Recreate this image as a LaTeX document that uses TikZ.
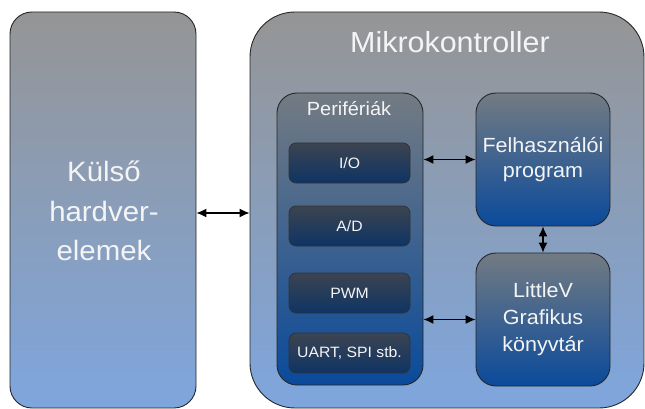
\documentclass[tikz,border=0pt]{standalone}
\usepackage{fontspec}
\setmainfont{Liberation Sans}[FakeStretch=1.05]
\usetikzlibrary{arrows.meta}
\definecolor{outtop}{HTML}{959595}
\definecolor{outbot}{HTML}{7EA6DE}
\definecolor{midtop}{HTML}{737B83}
\definecolor{midbot}{HTML}{0A4A9B}
\definecolor{smtop}{HTML}{3C4450}
\definecolor{smbot}{HTML}{0E3465}
\definecolor{txtcol}{HTML}{F4F4F4}
\begin{document}
\begin{tikzpicture}[x=1pt,y=-1pt,
  bigbox/.style={draw=black!85, line width=0.9pt, top color=outtop, bottom color=outbot},
  midbox/.style={draw=black!85, line width=0.9pt, top color=midtop, bottom color=midbot, rounded corners=20pt},
  smbox/.style={draw=black!80, line width=0.8pt, top color=smtop, bottom color=smbot, rounded corners=7pt,
     minimum width=121pt, minimum height=40pt, text=txtcol, font=\fontsize{15}{18}\selectfont},
  txt/.style={text=txtcol, inner sep=0pt},
  arr/.style={line width=1.2pt, {Latex[length=10pt,width=9pt]}-{Latex[length=10pt,width=9pt]}}]
\useasboundingbox (0,0) rectangle (645,409);
% outer boxes
\node[bigbox, rounded corners=22pt, minimum width=186pt, minimum height=396pt] (ext) at (103,210) {};
\node[bigbox, rounded corners=45pt, minimum width=394pt, minimum height=396pt] (mc) at (447,210) {};
\node[txt, font=\fontsize{28}{39.5}\selectfont, align=center] (exttxt) at (104,211) {Külső\\hardver-\\elemek};
\node[txt, font=\fontsize{29}{35}\selectfont, anchor=base] (mctxt) at (450,53) {Mikrokontroller};
% peripherals
\node[midbox, minimum width=146pt, minimum height=292pt] (per) at (350,239) {};
\node[txt, font=\fontsize{19}{23}\selectfont, anchor=base] (pertxt) at (349,116) {Perifériák};
\node[smbox] (io) at (349.5,163) {I/O};
\node[smbox] (ad) at (349.5,226) {A/D};
\node[smbox] (pwm) at (349.5,293) {PWM};
\node[smbox] (uart) at (349.5,353) {UART, SPI stb.};
% program and library
\node[midbox, minimum width=134pt, minimum height=133pt, text=txtcol, align=center,
  font=\fontsize{20.5}{25}\selectfont, inner sep=0pt] (felh) at (543,159.5) {Felhasználói\\program};
\node[midbox, minimum width=134pt, minimum height=133pt, text=txtcol, align=center,
  font=\fontsize{20.5}{27}\selectfont, inner sep=0pt] (lit) at (543,319.5) {LittleV\\Grafikus\\könyvtár};
% connectors
\draw[arr] ([yshift=-3pt]ext.east) -- ([yshift=-3pt]mc.west);
\draw[arr] (per.east |- felh.west) -- (felh.west);
\draw[arr] (per.east |- lit.west) -- (lit.west);
\draw[arr] (felh.south) -- (lit.north);
\end{tikzpicture}
\end{document}
